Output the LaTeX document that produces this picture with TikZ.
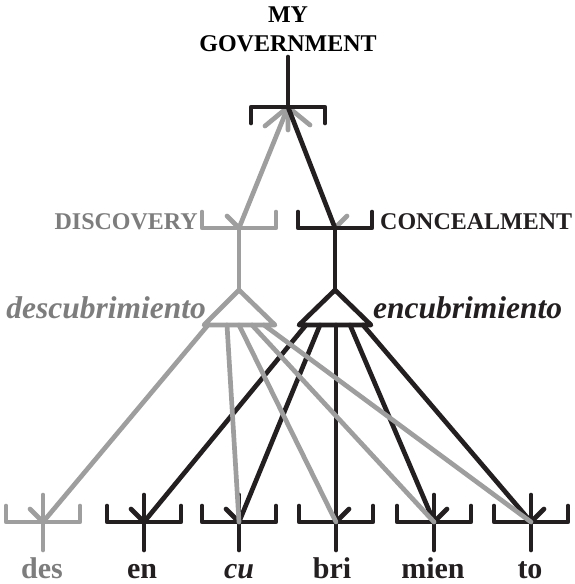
\documentclass[tikz,border=0pt]{standalone}
\usepackage{fontspec}
\usetikzlibrary{calc}
\setmainfont{Liberation Serif}
\definecolor{ink}{RGB}{35,31,32}
\definecolor{lgray}{RGB}{158,158,158}
\definecolor{tgray}{RGB}{125,125,125}
\begin{document}
\begin{tikzpicture}[x=1pt,y=-1pt,
  blk/.style={draw=ink,line width=4.7pt,line cap=round,line join=round},
  gry/.style={draw=lgray,line width=4.7pt,line cap=round,line join=round},
  caplabel/.style={font=\fontsize{24}{28}\selectfont\bfseries,inner sep=0pt},
  itlabel/.style={font=\fontsize{31.5}{36}\selectfont\bfseries\itshape,inner sep=0pt},
  syllable/.style={font=\fontsize{30}{34}\selectfont\bfseries,inner sep=0pt,anchor=base},
  % bracket opening upwards, centred on the current point
  pics/ucup/.style={code={\draw[#1] (-37,-16) -- (-37,0) -- (37,0) -- (37,-16);}},
  % bracket opening downwards
  pics/dcup/.style={code={\draw[#1] (-37,16) -- (-37,0) -- (37,0) -- (37,16);}}
]
\useasboundingbox (0,0) rectangle (575,584);

% ---- hub points of the structure
\coordinate (gov)  at (288,107);
\coordinate (govtop) at (288,57);
\coordinate (disc) at (239,228);
\coordinate (conc) at (335,228);
\coordinate (dapex) at (239,290);
\coordinate (eapex) at (335,290);
\coordinate (dL) at (204,325);
\coordinate (dR) at (275,325);
\coordinate (eL) at (299,325);
\coordinate (eR) at (371,325);

% attachment points along the triangle bases
\coordinate (d1) at (208,325);
\coordinate (d2) at (227,325);
\coordinate (d3) at (239,325);
\coordinate (d4) at (252,325);
\coordinate (d5) at (264,325);
\coordinate (e1) at (306,325);
\coordinate (e2) at (320,325);
\coordinate (e3) at (336,325);
\coordinate (e4) at (350,325);
\coordinate (e5) at (363,325);

% syllable hubs
\coordinate (s1) at (43,522);
\coordinate (s2) at (144,522);
\coordinate (s3) at (239,522);
\coordinate (s4) at (336,522);
\coordinate (s5) at (434,522);
\coordinate (s6) at (531,522);

% ---- labels
\node[caplabel,anchor=base] (lmy) at (288,22) {MY};
\node[caplabel,anchor=base] (lgov) at (288,51) {GOVERNMENT};
\node[caplabel,anchor=base east,text=tgray] (ldisc) at (198,229) {DISCOVERY};
\node[caplabel,anchor=base west,text=ink] (lconc) at (380,229) {CONCEALMENT};
\node[itlabel,anchor=base east,text=tgray] (ldes) at (206,318) {descubrimiento};
\node[itlabel,anchor=base west,text=ink] (lenc) at (373,318) {encubrimiento};
\node[syllable,text=tgray] (t1) at (42,578) {des};
\node[syllable,text=ink] (t2) at (142,578) {en};
\node[syllable,text=ink] (t3) at (239,578) {\itshape cu};
\node[syllable,text=ink] (t4) at (332,578) {bri};
\node[syllable,text=ink] (t5) at (433,578) {mien};
\node[syllable,text=ink] (t6) at (530,578) {to};

% ---- grey layer
\draw[gry] (gov) -- (disc);
\draw[gry] (gov) -- ++(-23,19) (gov) -- ++(0,23) (gov) -- ++(22,18);
\draw[gry] (disc) -- ++(-12,-12);
\draw[gry] (conc) -- ++(12,-12);
\pic at (disc) {ucup=gry};
\draw[gry] (disc) -- (dapex);
\draw[gry] (dapex) -- (dL) -- (dR) -- cycle;
\draw[gry] (d1) -- (s1);
\draw[gry] (s1) -- ++(-13,-13);
\pic at (s1) {ucup=gry};
\draw[gry] ($(s1)+(0,-27)$) -- ($(s1)+(0,28)$);

% ---- black layer
\draw[blk] (gov) -- (conc);
\draw[blk] (govtop) -- (gov);
\pic at (gov) {dcup=blk};
\pic at (conc) {ucup=blk};
\draw[blk] (conc) -- (eapex);
\draw[blk] (eapex) -- (eL) -- (eR) -- cycle;
\foreach \s in {s2,s3,s4,s5,s6}{
  \pic at (\s) {ucup=blk};
  \draw[blk] ($(\s)+(0,-27)$) -- ($(\s)+(0,28)$);
}
\draw[blk] (s2) -- ++(-13,-13);
\draw[blk] (s3) -- ++(-13,-13);
\draw[blk] (s4) -- ++(13,-13);
\draw[blk] (s5) -- ++(13,-13);
\draw[blk] (s6) -- ++(13,-13);
\draw[blk] (e1) -- (s2);
\draw[blk] (e2) -- (s3);
\draw[blk] (e3) -- (s4);
\draw[blk] (e4) -- (s5);
\draw[blk] (e5) -- (s6);

% grey connectors crossing the black syllables
\draw[gry] (d2) -- (s3);
\draw[gry] (d3) -- (s4);
\draw[gry] (d4) -- (s5);
\draw[gry] (d5) -- (s6);
\end{tikzpicture}
\end{document}
